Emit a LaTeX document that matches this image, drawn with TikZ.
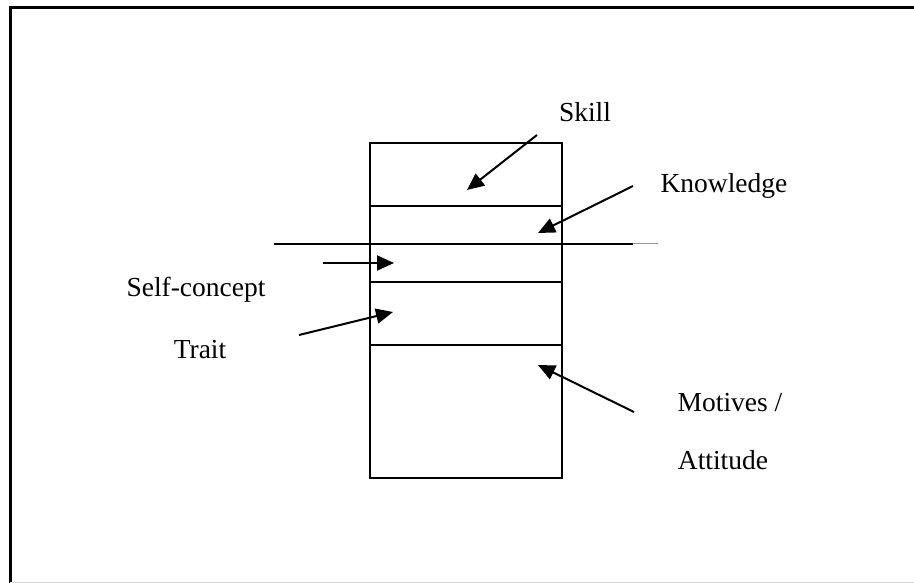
\documentclass[tikz,border=0pt]{standalone}
\usepackage{fontspec}
\setmainfont{Liberation Serif}
\usetikzlibrary{arrows.meta}
\begin{document}
\begin{tikzpicture}[x=1pt,y=-1pt,
  ln/.style={line width=2pt},
  arr/.style={line width=2pt,-{Triangle[length=17pt,width=15pt]}},
  lbl/.style={font=\fontsize{27.5}{30}\selectfont,inner sep=0pt}]
\useasboundingbox (0,0) rectangle (914,583);
% frame
\draw[line width=2.2pt] (10.5,583) -- (10.5,7.5) -- (914,7.5);
\draw[line width=1pt,black!15] (10,582) -- (914,582);
% box
\coordinate (bTL) at (370,143);
\coordinate (bBR) at (562,478);
\draw[ln] (bTL) rectangle (bBR);
\draw[ln] (370,206) -- (562,206);
\draw[ln] (370,282) -- (562,282);
\draw[ln] (370,345) -- (562,345);
% long horizontal line
\coordinate (hL) at (274,244);
\coordinate (hR) at (633,244);
\coordinate (hG) at (658,244);
\draw[ln] (hL) -- (hR);
\draw[line width=1pt,black!40] (hR) -- (hG);
% labels
\node[lbl] (skill) at (585,112) {Skill};
\node[lbl] (know) at (724,186) {Knowledge};
\node[lbl] (self) at (196,290) {Self-concept};
\node[lbl] (trait) at (200,350) {Trait};
\node[lbl] (mot) at (730,403) {Motives /};
\node[lbl] (att) at (723,460) {Attitude};
% arrow end points
\coordinate (sk1) at (537,135); \coordinate (sk2) at (467,190);
\coordinate (kn1) at (633,186); \coordinate (kn2) at (538,233);
\coordinate (sc1) at (323,263); \coordinate (sc2) at (394,263);
\coordinate (tr1) at (299,335); \coordinate (tr2) at (393,312);
\coordinate (mo1) at (634,412); \coordinate (mo2) at (538,365);
\draw[arr] (sk1) -- (sk2);
\draw[arr] (kn1) -- (kn2);
\draw[arr] (sc1) -- (sc2);
\draw[arr] (tr1) -- (tr2);
\draw[arr] (mo1) -- (mo2);
\end{tikzpicture}
\end{document}
